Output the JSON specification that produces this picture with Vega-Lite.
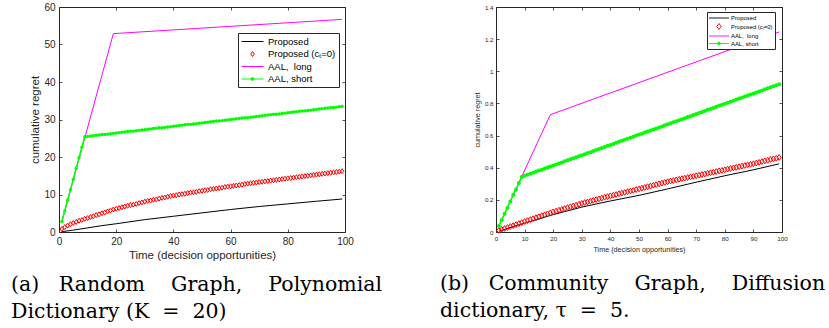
{
  "$schema": "https://vega.github.io/schema/vega-lite/v6.json",
  "background": "white",
  "padding": {"left": 10, "top": 1, "right": 0, "bottom": 0},
  "bounds": "flush",
  "spacing": 151,
  "config": {
    "view": {"stroke": "#262626", "strokeWidth": 1},
    "axis": {"grid": false, "domain": false, "labelFlush": false, "labelOverlap": false, "tickColor": "#262626", "tickWidth": 0.8, "labelColor": "#262626", "titleColor": "#262626", "labelFont": "Liberation Sans", "titleFont": "Liberation Sans", "titleFontWeight": "normal", "format": "~r"},
    "title": {"font": "DejaVu Serif", "fontWeight": "normal", "color": "#000000"}
  },
  "resolve": {"scale": {"color": "independent", "x": "independent", "y": "independent"}, "legend": {"color": "independent"}},
  "datasets": {
    "a": [
      {"s":"P","x":1,"y":0.1},{"s":"P","x":5,"y":0.5},{"s":"P","x":10,"y":1.1},{"s":"P","x":15,"y":1.7},{"s":"P","x":20,"y":2.2},{"s":"P","x":30,"y":3.3},{"s":"P","x":40,"y":4.2},{"s":"P","x":50,"y":5.1},{"s":"P","x":60,"y":6.0},{"s":"P","x":70,"y":6.8},{"s":"P","x":80,"y":7.5},{"s":"P","x":90,"y":8.2},{"s":"P","x":99,"y":8.8},
      {"s":"L","x":1,"y":2.8},{"s":"L","x":19,"y":52.9},{"s":"L","x":99,"y":56.7},
      {"s":"C","x":1,"y":0.8},{"s":"C","x":2,"y":1.3},{"s":"C","x":3,"y":1.7},{"s":"C","x":4,"y":2.1},{"s":"C","x":5,"y":2.4},{"s":"C","x":6,"y":2.7},{"s":"C","x":7,"y":3.0},{"s":"C","x":8,"y":3.2},{"s":"C","x":9,"y":3.5},{"s":"C","x":10,"y":3.7},
      {"s":"C","x":11,"y":4.0},{"s":"C","x":12,"y":4.2},{"s":"C","x":13,"y":4.5},{"s":"C","x":14,"y":4.7},{"s":"C","x":15,"y":5.0},{"s":"C","x":16,"y":5.2},{"s":"C","x":17,"y":5.5},{"s":"C","x":18,"y":5.7},{"s":"C","x":19,"y":6.0},{"s":"C","x":20,"y":6.2},
      {"s":"C","x":21,"y":6.4},{"s":"C","x":22,"y":6.6},{"s":"C","x":23,"y":6.8},{"s":"C","x":24,"y":7.0},{"s":"C","x":25,"y":7.2},{"s":"C","x":26,"y":7.3},{"s":"C","x":27,"y":7.5},{"s":"C","x":28,"y":7.7},{"s":"C","x":29,"y":7.9},{"s":"C","x":30,"y":8.1},
      {"s":"C","x":31,"y":8.3},{"s":"C","x":32,"y":8.4},{"s":"C","x":33,"y":8.6},{"s":"C","x":34,"y":8.7},{"s":"C","x":35,"y":8.9},{"s":"C","x":36,"y":9.1},{"s":"C","x":37,"y":9.2},{"s":"C","x":38,"y":9.4},{"s":"C","x":39,"y":9.6},{"s":"C","x":40,"y":9.7},
      {"s":"C","x":41,"y":9.8},{"s":"C","x":42,"y":10.0},{"s":"C","x":43,"y":10.1},{"s":"C","x":44,"y":10.2},{"s":"C","x":45,"y":10.4},{"s":"C","x":46,"y":10.5},{"s":"C","x":47,"y":10.6},{"s":"C","x":48,"y":10.7},{"s":"C","x":49,"y":10.9},{"s":"C","x":50,"y":11.0},
      {"s":"C","x":51,"y":11.1},{"s":"C","x":52,"y":11.2},{"s":"C","x":53,"y":11.4},{"s":"C","x":54,"y":11.5},{"s":"C","x":55,"y":11.6},{"s":"C","x":56,"y":11.7},{"s":"C","x":57,"y":11.8},{"s":"C","x":58,"y":12.0},{"s":"C","x":59,"y":12.1},{"s":"C","x":60,"y":12.2},
      {"s":"C","x":61,"y":12.3},{"s":"C","x":62,"y":12.4},{"s":"C","x":63,"y":12.5},{"s":"C","x":64,"y":12.6},{"s":"C","x":65,"y":12.8},{"s":"C","x":66,"y":12.9},{"s":"C","x":67,"y":13.0},{"s":"C","x":68,"y":13.1},{"s":"C","x":69,"y":13.2},{"s":"C","x":70,"y":13.3},
      {"s":"C","x":71,"y":13.4},{"s":"C","x":72,"y":13.5},{"s":"C","x":73,"y":13.6},{"s":"C","x":74,"y":13.7},{"s":"C","x":75,"y":13.8},{"s":"C","x":76,"y":13.9},{"s":"C","x":77,"y":14.0},{"s":"C","x":78,"y":14.1},{"s":"C","x":79,"y":14.2},{"s":"C","x":80,"y":14.3},
      {"s":"C","x":81,"y":14.4},{"s":"C","x":82,"y":14.5},{"s":"C","x":83,"y":14.6},{"s":"C","x":84,"y":14.7},{"s":"C","x":85,"y":14.8},{"s":"C","x":86,"y":14.9},{"s":"C","x":87,"y":15.0},{"s":"C","x":88,"y":15.1},{"s":"C","x":89,"y":15.2},{"s":"C","x":90,"y":15.3},
      {"s":"C","x":91,"y":15.4},{"s":"C","x":92,"y":15.5},{"s":"C","x":93,"y":15.6},{"s":"C","x":94,"y":15.7},{"s":"C","x":95,"y":15.8},{"s":"C","x":96,"y":15.9},{"s":"C","x":97,"y":16.0},{"s":"C","x":98,"y":16.1},{"s":"C","x":99,"y":16.2},
      {"s":"S","x":1,"y":2.8},{"s":"S","x":2,"y":5.6},{"s":"S","x":3,"y":8.5},{"s":"S","x":4,"y":11.3},{"s":"S","x":5,"y":14.1},{"s":"S","x":6,"y":17.0},{"s":"S","x":7,"y":19.8},{"s":"S","x":8,"y":22.6},{"s":"S","x":9,"y":25.4},{"s":"S","x":10,"y":25.5},
      {"s":"S","x":11,"y":25.6},{"s":"S","x":12,"y":25.7},{"s":"S","x":13,"y":25.8},{"s":"S","x":14,"y":25.9},{"s":"S","x":15,"y":26.0},{"s":"S","x":16,"y":26.0},{"s":"S","x":17,"y":26.1},{"s":"S","x":18,"y":26.2},{"s":"S","x":19,"y":26.3},{"s":"S","x":20,"y":26.4},
      {"s":"S","x":21,"y":26.5},{"s":"S","x":22,"y":26.6},{"s":"S","x":23,"y":26.7},{"s":"S","x":24,"y":26.8},{"s":"S","x":25,"y":26.9},{"s":"S","x":26,"y":26.9},{"s":"S","x":27,"y":27.0},{"s":"S","x":28,"y":27.1},{"s":"S","x":29,"y":27.2},{"s":"S","x":30,"y":27.3},
      {"s":"S","x":31,"y":27.4},{"s":"S","x":32,"y":27.5},{"s":"S","x":33,"y":27.6},{"s":"S","x":34,"y":27.7},{"s":"S","x":35,"y":27.8},{"s":"S","x":36,"y":27.8},{"s":"S","x":37,"y":27.9},{"s":"S","x":38,"y":28.0},{"s":"S","x":39,"y":28.1},{"s":"S","x":40,"y":28.2},
      {"s":"S","x":41,"y":28.3},{"s":"S","x":42,"y":28.4},{"s":"S","x":43,"y":28.5},{"s":"S","x":44,"y":28.6},{"s":"S","x":45,"y":28.7},{"s":"S","x":46,"y":28.7},{"s":"S","x":47,"y":28.8},{"s":"S","x":48,"y":28.9},{"s":"S","x":49,"y":29.0},{"s":"S","x":50,"y":29.1},
      {"s":"S","x":51,"y":29.2},{"s":"S","x":52,"y":29.3},{"s":"S","x":53,"y":29.4},{"s":"S","x":54,"y":29.5},{"s":"S","x":55,"y":29.6},{"s":"S","x":56,"y":29.6},{"s":"S","x":57,"y":29.7},{"s":"S","x":58,"y":29.8},{"s":"S","x":59,"y":29.9},{"s":"S","x":60,"y":30.0},
      {"s":"S","x":61,"y":30.1},{"s":"S","x":62,"y":30.2},{"s":"S","x":63,"y":30.3},{"s":"S","x":64,"y":30.4},{"s":"S","x":65,"y":30.5},{"s":"S","x":66,"y":30.5},{"s":"S","x":67,"y":30.6},{"s":"S","x":68,"y":30.7},{"s":"S","x":69,"y":30.8},{"s":"S","x":70,"y":30.9},
      {"s":"S","x":71,"y":31.0},{"s":"S","x":72,"y":31.1},{"s":"S","x":73,"y":31.2},{"s":"S","x":74,"y":31.3},{"s":"S","x":75,"y":31.4},{"s":"S","x":76,"y":31.4},{"s":"S","x":77,"y":31.5},{"s":"S","x":78,"y":31.6},{"s":"S","x":79,"y":31.7},{"s":"S","x":80,"y":31.8},
      {"s":"S","x":81,"y":31.9},{"s":"S","x":82,"y":32.0},{"s":"S","x":83,"y":32.1},{"s":"S","x":84,"y":32.2},{"s":"S","x":85,"y":32.3},{"s":"S","x":86,"y":32.3},{"s":"S","x":87,"y":32.4},{"s":"S","x":88,"y":32.5},{"s":"S","x":89,"y":32.6},{"s":"S","x":90,"y":32.7},
      {"s":"S","x":91,"y":32.8},{"s":"S","x":92,"y":32.9},{"s":"S","x":93,"y":33.0},{"s":"S","x":94,"y":33.1},{"s":"S","x":95,"y":33.2},{"s":"S","x":96,"y":33.2},{"s":"S","x":97,"y":33.3},{"s":"S","x":98,"y":33.4},{"s":"S","x":99,"y":33.5}
    ],
    "b": [
      {"s":"P","x":1,"y":0.005},{"s":"P","x":10,"y":0.055},{"s":"P","x":20,"y":0.108},{"s":"P","x":30,"y":0.155},{"s":"P","x":40,"y":0.193},{"s":"P","x":50,"y":0.228},{"s":"P","x":60,"y":0.268},{"s":"P","x":70,"y":0.31},{"s":"P","x":80,"y":0.35},{"s":"P","x":90,"y":0.387},{"s":"P","x":99,"y":0.424},
      {"s":"L","x":1,"y":0.037},{"s":"L","x":19,"y":0.73},{"s":"L","x":99,"y":1.245},
      {"s":"C","x":1,"y":0.010},{"s":"C","x":2,"y":0.016},{"s":"C","x":3,"y":0.022},{"s":"C","x":4,"y":0.028},{"s":"C","x":5,"y":0.034},{"s":"C","x":6,"y":0.040},{"s":"C","x":7,"y":0.046},{"s":"C","x":8,"y":0.052},{"s":"C","x":9,"y":0.058},{"s":"C","x":10,"y":0.065},
      {"s":"C","x":11,"y":0.071},{"s":"C","x":12,"y":0.077},{"s":"C","x":13,"y":0.083},{"s":"C","x":14,"y":0.089},{"s":"C","x":15,"y":0.095},{"s":"C","x":16,"y":0.101},{"s":"C","x":17,"y":0.107},{"s":"C","x":18,"y":0.113},{"s":"C","x":19,"y":0.119},{"s":"C","x":20,"y":0.125},
      {"s":"C","x":21,"y":0.130},{"s":"C","x":22,"y":0.136},{"s":"C","x":23,"y":0.141},{"s":"C","x":24,"y":0.146},{"s":"C","x":25,"y":0.152},{"s":"C","x":26,"y":0.157},{"s":"C","x":27,"y":0.162},{"s":"C","x":28,"y":0.167},{"s":"C","x":29,"y":0.173},{"s":"C","x":30,"y":0.178},
      {"s":"C","x":31,"y":0.183},{"s":"C","x":32,"y":0.187},{"s":"C","x":33,"y":0.192},{"s":"C","x":34,"y":0.197},{"s":"C","x":35,"y":0.202},{"s":"C","x":36,"y":0.206},{"s":"C","x":37,"y":0.211},{"s":"C","x":38,"y":0.216},{"s":"C","x":39,"y":0.220},{"s":"C","x":40,"y":0.225},
      {"s":"C","x":41,"y":0.229},{"s":"C","x":42,"y":0.233},{"s":"C","x":43,"y":0.238},{"s":"C","x":44,"y":0.242},{"s":"C","x":45,"y":0.246},{"s":"C","x":46,"y":0.251},{"s":"C","x":47,"y":0.255},{"s":"C","x":48,"y":0.259},{"s":"C","x":49,"y":0.264},{"s":"C","x":50,"y":0.268},
      {"s":"C","x":51,"y":0.273},{"s":"C","x":52,"y":0.277},{"s":"C","x":53,"y":0.282},{"s":"C","x":54,"y":0.286},{"s":"C","x":55,"y":0.291},{"s":"C","x":56,"y":0.295},{"s":"C","x":57,"y":0.300},{"s":"C","x":58,"y":0.304},{"s":"C","x":59,"y":0.309},{"s":"C","x":60,"y":0.313},
      {"s":"C","x":61,"y":0.317},{"s":"C","x":62,"y":0.320},{"s":"C","x":63,"y":0.324},{"s":"C","x":64,"y":0.328},{"s":"C","x":65,"y":0.332},{"s":"C","x":66,"y":0.335},{"s":"C","x":67,"y":0.339},{"s":"C","x":68,"y":0.343},{"s":"C","x":69,"y":0.346},{"s":"C","x":70,"y":0.350},
      {"s":"C","x":71,"y":0.354},{"s":"C","x":72,"y":0.358},{"s":"C","x":73,"y":0.361},{"s":"C","x":74,"y":0.365},{"s":"C","x":75,"y":0.369},{"s":"C","x":76,"y":0.372},{"s":"C","x":77,"y":0.376},{"s":"C","x":78,"y":0.380},{"s":"C","x":79,"y":0.383},{"s":"C","x":80,"y":0.387},
      {"s":"C","x":81,"y":0.391},{"s":"C","x":82,"y":0.395},{"s":"C","x":83,"y":0.399},{"s":"C","x":84,"y":0.402},{"s":"C","x":85,"y":0.406},{"s":"C","x":86,"y":0.410},{"s":"C","x":87,"y":0.414},{"s":"C","x":88,"y":0.418},{"s":"C","x":89,"y":0.421},{"s":"C","x":90,"y":0.425},
      {"s":"C","x":91,"y":0.429},{"s":"C","x":92,"y":0.433},{"s":"C","x":93,"y":0.438},{"s":"C","x":94,"y":0.442},{"s":"C","x":95,"y":0.446},{"s":"C","x":96,"y":0.451},{"s":"C","x":97,"y":0.455},{"s":"C","x":98,"y":0.459},{"s":"C","x":99,"y":0.464},
      {"s":"S","x":1,"y":0.037},{"s":"S","x":2,"y":0.075},{"s":"S","x":3,"y":0.113},{"s":"S","x":4,"y":0.150},{"s":"S","x":5,"y":0.190},{"s":"S","x":6,"y":0.230},{"s":"S","x":7,"y":0.265},{"s":"S","x":8,"y":0.305},{"s":"S","x":9,"y":0.343},{"s":"S","x":10,"y":0.350},
      {"s":"S","x":11,"y":0.356},{"s":"S","x":12,"y":0.363},{"s":"S","x":13,"y":0.369},{"s":"S","x":14,"y":0.376},{"s":"S","x":15,"y":0.382},{"s":"S","x":16,"y":0.388},{"s":"S","x":17,"y":0.395},{"s":"S","x":18,"y":0.401},{"s":"S","x":19,"y":0.408},{"s":"S","x":20,"y":0.414},
      {"s":"S","x":21,"y":0.420},{"s":"S","x":22,"y":0.427},{"s":"S","x":23,"y":0.433},{"s":"S","x":24,"y":0.440},{"s":"S","x":25,"y":0.446},{"s":"S","x":26,"y":0.452},{"s":"S","x":27,"y":0.459},{"s":"S","x":28,"y":0.465},{"s":"S","x":29,"y":0.472},{"s":"S","x":30,"y":0.478},
      {"s":"S","x":31,"y":0.484},{"s":"S","x":32,"y":0.491},{"s":"S","x":33,"y":0.497},{"s":"S","x":34,"y":0.504},{"s":"S","x":35,"y":0.510},{"s":"S","x":36,"y":0.516},{"s":"S","x":37,"y":0.523},{"s":"S","x":38,"y":0.529},{"s":"S","x":39,"y":0.536},{"s":"S","x":40,"y":0.542},
      {"s":"S","x":41,"y":0.548},{"s":"S","x":42,"y":0.555},{"s":"S","x":43,"y":0.561},{"s":"S","x":44,"y":0.568},{"s":"S","x":45,"y":0.574},{"s":"S","x":46,"y":0.580},{"s":"S","x":47,"y":0.587},{"s":"S","x":48,"y":0.593},{"s":"S","x":49,"y":0.600},{"s":"S","x":50,"y":0.606},
      {"s":"S","x":51,"y":0.612},{"s":"S","x":52,"y":0.619},{"s":"S","x":53,"y":0.625},{"s":"S","x":54,"y":0.632},{"s":"S","x":55,"y":0.638},{"s":"S","x":56,"y":0.644},{"s":"S","x":57,"y":0.651},{"s":"S","x":58,"y":0.657},{"s":"S","x":59,"y":0.664},{"s":"S","x":60,"y":0.670},
      {"s":"S","x":61,"y":0.676},{"s":"S","x":62,"y":0.683},{"s":"S","x":63,"y":0.689},{"s":"S","x":64,"y":0.696},{"s":"S","x":65,"y":0.702},{"s":"S","x":66,"y":0.708},{"s":"S","x":67,"y":0.715},{"s":"S","x":68,"y":0.721},{"s":"S","x":69,"y":0.728},{"s":"S","x":70,"y":0.734},
      {"s":"S","x":71,"y":0.740},{"s":"S","x":72,"y":0.747},{"s":"S","x":73,"y":0.753},{"s":"S","x":74,"y":0.760},{"s":"S","x":75,"y":0.766},{"s":"S","x":76,"y":0.772},{"s":"S","x":77,"y":0.779},{"s":"S","x":78,"y":0.785},{"s":"S","x":79,"y":0.792},{"s":"S","x":80,"y":0.798},
      {"s":"S","x":81,"y":0.804},{"s":"S","x":82,"y":0.811},{"s":"S","x":83,"y":0.817},{"s":"S","x":84,"y":0.824},{"s":"S","x":85,"y":0.830},{"s":"S","x":86,"y":0.836},{"s":"S","x":87,"y":0.843},{"s":"S","x":88,"y":0.849},{"s":"S","x":89,"y":0.856},{"s":"S","x":90,"y":0.862},
      {"s":"S","x":91,"y":0.868},{"s":"S","x":92,"y":0.875},{"s":"S","x":93,"y":0.881},{"s":"S","x":94,"y":0.888},{"s":"S","x":95,"y":0.894},{"s":"S","x":96,"y":0.900},{"s":"S","x":97,"y":0.907},{"s":"S","x":98,"y":0.913},{"s":"S","x":99,"y":0.920}
    ]
  },
  "hconcat": [
    {
      "width": 286,
      "height": 225,
      "data": {"name": "a"},
      "title": {
        "text": ["(a)\u00a0\u00a0\u00a0Random\u00a0\u00a0\u00a0\u00a0Graph,\u00a0\u00a0\u00a0\u00a0Polynomial", "Dictionary\u00a0(K\u00a0\u00a0=\u00a0\u00a020)"],
        "orient": "bottom", "anchor": "start", "frame": "group",
        "font": "DejaVu Serif", "fontWeight": "normal", "color": "#000000",
        "fontSize": 20.5, "lineHeight": 27, "dx": -48, "offset": 14
      },
      "resolve": {"axis": {"x": "independent", "y": "independent"}},
      "layer": [
        {
          "transform": [{"filter": "datum.s == 'P'"}],
          "mark": {"type": "line", "strokeWidth": 1},
          "encoding": {
            "x": {"field": "x", "type": "quantitative", "scale": {"domain": [0, 100], "nice": false},
                  "axis": {"orient": "bottom", "values": [0, 20, 40, 60, 80, 100], "title": "Time (decision opportunities)", "labelFontSize": 10, "titleFontSize": 11.5, "tickSize": -3, "labelPadding": 7, "titlePadding": 3}},
            "y": {"field": "y", "type": "quantitative", "scale": {"domain": [0, 60], "nice": false},
                  "axis": {"orient": "left", "values": [0, 10, 20, 30, 40, 50, 60], "title": "cumulative regret", "labelFontSize": 10, "titleFontSize": 11.5, "tickSize": -3, "labelPadding": 7, "titlePadding": 3}},
            "color": {"field": "s", "type": "nominal",
                      "scale": {"domain": ["P", "C", "L", "S"], "range": ["#000000", "#ff0000", "#ff00ff", "#00ff00"]},
                      "legend": {
                        "orient": "none", "legendX": 179, "legendY": 26, "title": null,
                        "labelExpr": "datum.value == 'P' ? 'Proposed' : datum.value == 'C' ? 'Proposed (cₜ=0)' : datum.value == 'L' ? 'AAL,\u00a0\u00a0long' : 'AAL, short'",
                        "labelFont": "Liberation Sans", "labelFontSize": 9.5, "labelColor": "#000000",
                        "strokeColor": "#262626", "fillColor": "#ffffff", "padding": 3,
                        "symbolSize": 100, "symbolStrokeWidth": 1, "rowPadding": 2.5, "symbolOffset": 6, "labelOffset": 10,
                        "encode": {"symbols": {"update": {
                          "shape": {"signal": "datum.value == 'C' ? 'M0,-0.5L0.35,0L0,0.5L-0.35,0Z' : datum.value == 'S' ? 'M-2.2,0H2.2M-0.3,0A0.3,0.3,0,1,0,0.3,0A0.3,0.3,0,1,0,-0.3,0Z' : 'M-2.2,0H2.2'"},
                          "fill": {"signal": "datum.value == 'S' ? '#00ff00' : 'transparent'"},
                          "stroke": {"signal": "datum.value == 'P' ? '#000000' : datum.value == 'C' ? '#ff0000' : datum.value == 'L' ? '#ff00ff' : '#00ff00'"}
                        }}}
                      }}
          }
        },
        {
          "transform": [{"filter": "datum.s == 'C'"}],
          "mark": {"type": "point", "shape": "M0,-1L0.7,0L0,1L-0.7,0Z", "filled": false, "color": "#ff0000", "size": 25, "strokeWidth": 1, "opacity": 1},
          "encoding": {
            "x": {"field": "x", "type": "quantitative", "axis": null},
            "y": {"field": "y", "type": "quantitative", "axis": null}
          }
        },
        {
          "transform": [{"filter": "datum.s == 'L'"}],
          "mark": {"type": "line", "strokeWidth": 1},
          "encoding": {
            "x": {"field": "x", "type": "quantitative",
                  "axis": {"orient": "top", "values": [0, 20, 40, 60, 80, 100], "labels": false, "title": null, "tickSize": -3}},
            "y": {"field": "y", "type": "quantitative",
                  "axis": {"orient": "right", "values": [0, 10, 20, 30, 40, 50, 60], "labels": false, "title": null, "tickSize": -3}},
            "color": {"field": "s", "type": "nominal"}
          }
        },
        {
          "transform": [{"filter": "datum.s == 'S'"}],
          "mark": {"type": "line", "strokeWidth": 1.5},
          "encoding": {
            "x": {"field": "x", "type": "quantitative", "axis": null},
            "y": {"field": "y", "type": "quantitative", "axis": null},
            "color": {"field": "s", "type": "nominal"}
          }
        },
        {
          "transform": [{"filter": "datum.s == 'S'"}],
          "mark": {"type": "circle", "color": "#00ff00", "size": 11, "opacity": 1},
          "encoding": {
            "x": {"field": "x", "type": "quantitative", "axis": null},
            "y": {"field": "y", "type": "quantitative", "axis": null}
          }
        }
      ]
    },
    {
      "width": 286,
      "height": 225,
      "data": {"name": "b"},
      "title": {
        "text": ["(b)\u00a0\u00a0\u00a0Community\u00a0\u00a0\u00a0\u00a0Graph,\u00a0\u00a0\u00a0\u00a0Diffusion", "dictionary,\u00a0τ\u00a0\u00a0=\u00a0\u00a05."],
        "orient": "bottom", "anchor": "start", "frame": "group",
        "font": "DejaVu Serif", "fontWeight": "normal", "color": "#000000",
        "fontSize": 20.5, "lineHeight": 27, "dx": -56, "offset": 21
      },
      "resolve": {"axis": {"x": "independent", "y": "independent"}},
      "layer": [
        {
          "transform": [{"filter": "datum.s == 'P'"}],
          "mark": {"type": "line", "strokeWidth": 1},
          "encoding": {
            "x": {"field": "x", "type": "quantitative", "scale": {"domain": [0, 100], "nice": false},
                  "axis": {"orient": "bottom", "values": [0, 10, 20, 30, 40, 50, 60, 70, 80, 90, 100], "title": "Time (decision opportunities)", "labelFontSize": 6.2, "titleFontSize": 7.2, "tickSize": -3, "labelPadding": 6.5, "titlePadding": 4}},
            "y": {"field": "y", "type": "quantitative", "scale": {"domain": [0, 1.4], "nice": false},
                  "axis": {"orient": "left", "values": [0, 0.2, 0.4, 0.6, 0.8, 1, 1.2, 1.4], "title": "cumulative regret", "labelFontSize": 6.2, "titleFontSize": 7.2, "tickSize": -3, "labelPadding": 6, "titlePadding": 3}},
            "color": {"field": "s", "type": "nominal",
                      "scale": {"domain": ["P", "C", "L", "S"], "range": ["#000000", "#ff0000", "#ff00ff", "#00ff00"]},
                      "legend": {
                        "orient": "none", "legendX": 211, "legendY": 5, "title": null,
                        "labelExpr": "datum.value == 'P' ? 'Proposed' : datum.value == 'C' ? 'Proposed (cₜ=0)' : datum.value == 'L' ? 'AAL,\u00a0\u00a0long' : 'AAL, short'",
                        "labelFont": "Liberation Sans", "labelFontSize": 5.9, "labelColor": "#000000",
                        "strokeColor": "#262626", "fillColor": "#ffffff", "padding": 2,
                        "symbolSize": 49, "symbolStrokeWidth": 0.9, "rowPadding": 0.5, "symbolOffset": 6, "labelOffset": 8,
                        "encode": {"symbols": {"update": {
                          "shape": {"signal": "datum.value == 'C' ? 'M0,-0.86L0.6,0L0,0.86L-0.6,0Z' : datum.value == 'S' ? 'M-2.86,0H2.86M-0.4,0A0.4,0.4,0,1,0,0.4,0A0.4,0.4,0,1,0,-0.4,0Z' : 'M-2.86,0H2.86'"},
                          "fill": {"signal": "datum.value == 'S' ? '#00ff00' : 'transparent'"},
                          "stroke": {"signal": "datum.value == 'P' ? '#000000' : datum.value == 'C' ? '#ff0000' : datum.value == 'L' ? '#ff00ff' : '#00ff00'"}
                        }}}
                      }}
          }
        },
        {
          "transform": [{"filter": "datum.s == 'C'"}],
          "mark": {"type": "point", "shape": "M0,-1L0.7,0L0,1L-0.7,0Z", "filled": false, "color": "#ff0000", "size": 34, "strokeWidth": 1, "opacity": 1},
          "encoding": {
            "x": {"field": "x", "type": "quantitative", "axis": null},
            "y": {"field": "y", "type": "quantitative", "axis": null}
          }
        },
        {
          "transform": [{"filter": "datum.s == 'L'"}],
          "mark": {"type": "line", "strokeWidth": 1},
          "encoding": {
            "x": {"field": "x", "type": "quantitative",
                  "axis": {"orient": "top", "values": [0, 10, 20, 30, 40, 50, 60, 70, 80, 90, 100], "labels": false, "title": null, "tickSize": -3}},
            "y": {"field": "y", "type": "quantitative",
                  "axis": {"orient": "right", "values": [0, 0.2, 0.4, 0.6, 0.8, 1, 1.2, 1.4], "labels": false, "title": null, "tickSize": -3}},
            "color": {"field": "s", "type": "nominal"}
          }
        },
        {
          "transform": [{"filter": "datum.s == 'S'"}],
          "mark": {"type": "line", "strokeWidth": 1.5},
          "encoding": {
            "x": {"field": "x", "type": "quantitative", "axis": null},
            "y": {"field": "y", "type": "quantitative", "axis": null},
            "color": {"field": "s", "type": "nominal"}
          }
        },
        {
          "transform": [{"filter": "datum.s == 'S'"}],
          "mark": {"type": "circle", "color": "#00ff00", "size": 16, "opacity": 1},
          "encoding": {
            "x": {"field": "x", "type": "quantitative", "axis": null},
            "y": {"field": "y", "type": "quantitative", "axis": null}
          }
        }
      ]
    }
  ]
}
